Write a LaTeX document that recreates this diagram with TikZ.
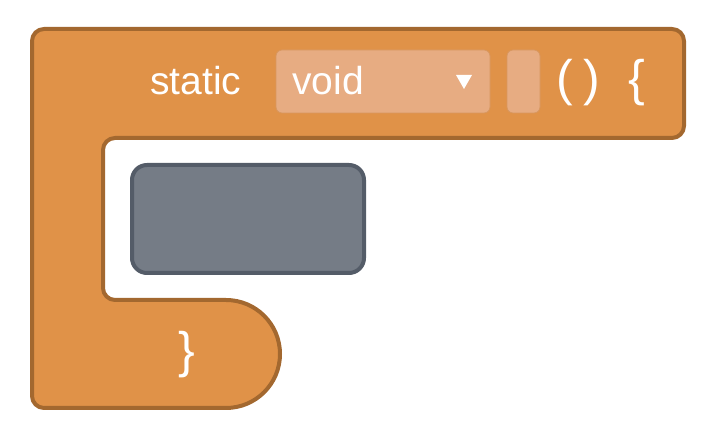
\documentclass[tikz,border=0pt]{standalone}
\usepackage{fontspec}
\setmainfont{Liberation Sans}
\definecolor{blockfill}{HTML}{E09248}
\definecolor{blockline}{HTML}{A3682F}
\definecolor{fieldfill}{HTML}{E7AC82}
\definecolor{fieldline}{HTML}{D8975F}
\definecolor{slotfill}{HTML}{757C86}
\definecolor{slotline}{HTML}{545C68}
\tikzset{
  x=1pt, y=1pt,
  blockshape/.style={fill=blockfill, draw=blockline, line width=4pt, line join=round},
  fieldbox/.style={fill=fieldfill, draw=fieldline, line width=0.8pt, rounded corners=6pt},
  slotbox/.style={fill=slotfill, draw=slotline, line width=4pt, rounded corners=15pt},
  lbl/.style={text=white, inner sep=0pt, font=\fontsize{39}{40}\selectfont},
  brace/.style={text=white, inner sep=0pt, font=\fontsize{50}{52}\selectfont}
}
\begin{document}
\begin{tikzpicture}
\useasboundingbox (0,0) rectangle (710,435);
% main C-shaped block
\draw[blockshape]
  (44,406) -- (672,406) arc[start angle=90, end angle=0, radius=12]
  -- (684,309) arc[start angle=0, end angle=-90, radius=12]
  -- (115,297) arc[start angle=90, end angle=180, radius=12]
  -- (103,147) arc[start angle=180, end angle=270, radius=12]
  -- (226,135) arc[start angle=90, end angle=-90, radius=54]
  -- (44,27) arc[start angle=270, end angle=180, radius=12]
  -- (32,394) arc[start angle=180, end angle=90, radius=12] -- cycle;
% labels
\node[lbl, anchor=base west] (static) at (150,340) {static};
\draw[fieldbox] (276,322) rectangle (490,385);
\node[lbl, anchor=base west] (void) at (292,340) {void};
\fill[white] (456,360) -- (472,360) -- (464,346) -- cycle;
\draw[fieldbox] (507,322) rectangle (540,385);
\node[brace] (lp) at (565,352) {(};
\node[brace] (rp) at (592,352) {)};
\node[brace] (lb) at (637,352) {\{};
% empty statement slot
\draw[slotbox] (132,162) rectangle (364,270);
% closing brace
\node[brace] (rb) at (187,80) {\}};
\end{tikzpicture}
\end{document}
